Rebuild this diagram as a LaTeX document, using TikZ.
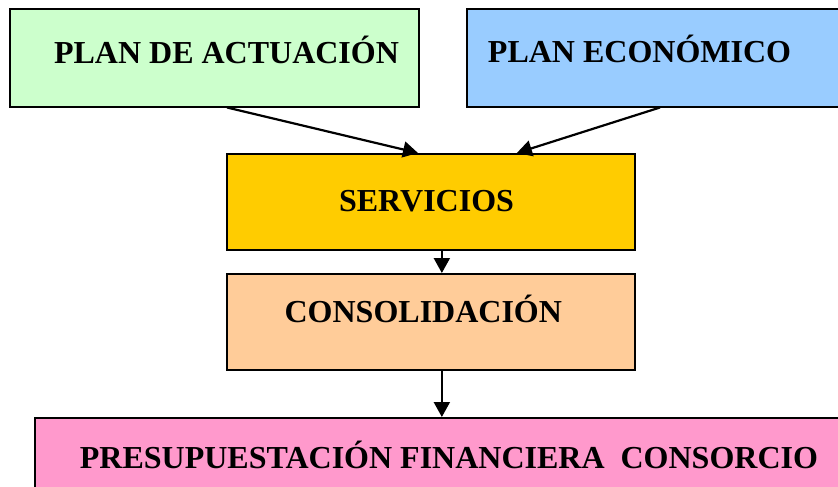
\documentclass[tikz,border=0pt]{standalone}
\usepackage{fontspec}
\setmainfont{Liberation Serif}
\usetikzlibrary{arrows.meta}
\definecolor{verde}{HTML}{CCFFCC}
\definecolor{azul}{HTML}{99CCFF}
\definecolor{oro}{HTML}{FFCC00}
\definecolor{melocoton}{HTML}{FFCC99}
\definecolor{rosa}{HTML}{FF99CC}
\tikzset{
  caja/.style={draw,rectangle,line width=2pt,inner sep=0pt},
  rotulo/.style={anchor=base,inner sep=0pt,font=\fontsize{32}{38}\selectfont\bfseries},
  flecha/.style={line width=2.2pt,-{Triangle[length=15pt,width=16pt]}}
}
\begin{document}
\begin{tikzpicture}[x=1pt,y=-1pt]
    \clip (0,0) rectangle (838,487);
    \node[caja,fill=verde,minimum width=409.5pt,minimum height=97pt] (actuacion) at (214.25,58) {};
    \node[caja,fill=azul,minimum width=386.6pt,minimum height=97pt] (economico) at (660,58) {};
    \node[caja,fill=oro,minimum width=408.3pt,minimum height=96pt] (servicios) at (430.85,202) {};
    \node[caja,fill=melocoton,minimum width=408.3pt,minimum height=96pt] (consolidacion) at (430.85,322) {};
    \node[caja,fill=rosa,minimum width=835pt,minimum height=102pt] (presupuesto) at (452.5,469) {};
    \node[rotulo] (actuacion-t) at (226.5,63.3) {PLAN DE ACTUACIÓN};
    \node[rotulo] (economico-t) at (639.5,63) {PLAN ECONÓMICO};
    \node[rotulo] (servicios-t) at (426.5,211.7) {SERVICIOS};
    \node[rotulo] (consolidacion-t) at (423.3,322.7) {CONSOLIDACIÓN};
    \node[rotulo] (presupuesto-t) at (449,468) {PRESUPUESTACIÓN FINANCIERA\ \ CONSORCIO};
    \draw[flecha] ([xshift=12.75pt]actuacion.south) -- ([xshift=-12.85pt]servicios.north);
    \draw[flecha] (economico.south) -- ([xshift=86pt]servicios.north);
    \draw[flecha] ([xshift=11pt]servicios.south) -- ([xshift=11pt]consolidacion.north);
    \draw[flecha] ([xshift=11pt]consolidacion.south) -- ([xshift=11pt]consolidacion.south |- presupuesto.north);
\end{tikzpicture}
\end{document}
